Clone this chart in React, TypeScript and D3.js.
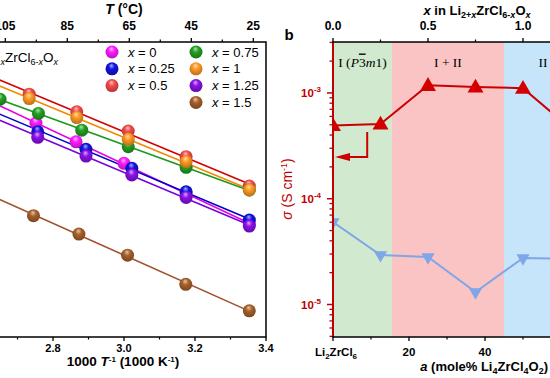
import React from 'react';
import * as d3 from 'd3';

// ---------- Panel a data (1000/T vs sigma, S/cm) ----------
const compLabels = ['0', '0.25', '0.5', '0.75', '1', '1.25', '1.5'];
const invT_x0 = [2.752, 2.865, 3.0, 3.175, 3.353];
const sig_x0 = [6.07e-3, 3.8e-3, 2.22e-3, 1.04e-3, 4.95e-4];
const invT_x025 = [2.757, 2.893, 3.022, 3.175, 3.353];
const sig_x025 = [4.89e-3, 3.15e-3, 1.96e-3, 1.09e-3, 5.38e-4];
const invT_x05 = [2.733, 2.867, 3.012, 3.175, 3.353];
const sig_x05 = [1.25e-2, 8.05e-3, 4.97e-3, 2.62e-3, 1.26e-3];
const invT_x075 = [2.651, 2.759, 2.881, 3.012, 3.175, 3.353];
const sig_x075 = [1.1e-2, 7.73e-3, 5.09e-3, 3.36e-3, 2.01e-3, 1.14e-3];
const invT_x1 = [2.733, 2.867, 3.012, 3.175, 3.353];
const sig_x1 = [1.12e-2, 6.97e-3, 4.04e-3, 2.31e-3, 1.14e-3];
const invT_x125 = [2.757, 2.893, 3.022, 3.175, 3.353];
const sig_x125 = [4.25e-3, 2.66e-3, 1.66e-3, 9.48e-4, 4.63e-4];
const invT_x15 = [2.745, 2.873, 3.01, 3.174, 3.353];
const sig_x15 = [6.0e-4, 3.79e-4, 2.24e-4, 1.08e-4, 5.58e-5];

const ballColors = ['#ff1aff', '#1212e0', '#f24a4a', '#22a022', '#ff9922', '#8a10e8', '#a8602a'];
const lineColors = ['#e600e6', '#0000cc', '#d40000', '#1c9a1c', '#f08a00', '#7a00dd', '#a0522d'];

const invTTicks = [2.6, 2.8, 3.0, 3.2, 3.4];
const invTMinor = [2.7, 2.9, 3.1, 3.3];
const tempTicks = [105, 85, 65, 45, 25];
const tempMinor = [115, 95, 75, 55, 35];

// ---------- Panel b data ----------
const compX = [0, 0.25, 0.5, 0.75, 1.0, 1.25, 1.5];
const sigmaRT = [4.93e-4, 5.09e-4, 1.18e-3, 1.14e-3, 1.11e-3, 4.6e-4, 5.6e-5];
const seriesBX = [0, 0.25, 0.5, 0.75, 1.0, 1.25];
const seriesB = [6.03e-5, 2.94e-5, 2.81e-5, 1.31e-5, 2.75e-5, 2.7e-5];
const phaseStart = [0, 0.31, 0.9];
const phaseEnd = [0.31, 0.9, 1.31];
const phaseColors = ['#d0e9cf', '#fac4c4', '#c6e5fa'];
const xTopTicks = [0, 0.5, 1.0, 1.5];
const xTopMinor = [0.25, 0.75, 1.25];
const aTicks = [0, 20, 40, 60];
const aMinor = [10, 30, 50, 70];
const sigMajor = [1e-3, 1e-4, 1e-5];
const sigMajorExp = ['-3', '-4', '-5'];

const SANS = 'Liberation Sans, Arial, Helvetica, sans-serif';
const SERIF = 'Liberation Serif, Times New Roman, DejaVu Serif, serif';

const seriesA = [
  [invT_x0, sig_x0], [invT_x025, sig_x025], [invT_x05, sig_x05], [invT_x075, sig_x075],
  [invT_x1, sig_x1], [invT_x125, sig_x125], [invT_x15, sig_x15],
].map(([xs, ys], i) => ({ xs, ys, ball: ballColors[i], line: lineColors[i], label: compLabels[i] }));

function fit(xs: number[], ys: number[]) {
  const ly = ys.map((v) => Math.log10(v));
  const mx = d3.mean(xs)!;
  const my = d3.mean(ly)!;
  let num = 0, den = 0;
  xs.forEach((x, i) => { num += (x - mx) * (ly[i] - my); den += (x - mx) * (x - mx); });
  const b = num / den;
  const a = my - b * mx;
  return (x: number) => Math.pow(10, a + b * x);
}

function Ball({ cx, cy, id }: { cx: number; cy: number; id: string }) {
  return <circle cx={cx} cy={cy} r={6.5} fill={`url(#${id})`} />;
}

export default function App() {
  // Panel a scales
  const xL = d3.scaleLinear().domain([2.6, 3.4]).range([-18, 266]);
  const yL = d3.scaleLog().domain([2.9e-5, 4.6e-2]).range([337, 42]);
  const tL = d3.scaleLinear().domain([25, 105]).range([253.3, 5.3]);
  // Panel b scales
  const xR = d3.scaleLinear().domain([0, 1.5]).range([333, 618]);
  const aR = d3.scaleLinear().domain([0, 75]).range([333, 618]);
  const yR = d3.scaleLog().domain([4.93e-6, 3.03e-3]).range([337, 42]);

  const lineR = d3.line<number>().x((_, i) => xR(compX[i])).y((d) => yR(d));
  const lineB = d3.line<number>().x((_, i) => xR(seriesBX[i])).y((d) => yR(d));

  const minorSig: number[] = [];
  for (let e = -6; e <= -3; e++) for (let k = 2; k <= 9; k++) {
    const v = k * Math.pow(10, e);
    if (v > 4.93e-6 && v < 3.03e-3) minorSig.push(v);
  }

  const triUp = d3.symbol().type(d3.symbolTriangle).size(110)()!;
  const triDown = d3.symbol().type(d3.symbolTriangle).size(75)()!;

  const arrowX = xR(0.18);
  const arrowY0 = yR(sigmaRT[1]) + 8;
  const arrowY1 = arrowY0 + 25;

  return (
    <svg width={550} height={378} style={{ position: 'absolute', left: 0, top: 0, background: '#fff' }}>
      <defs>
        {ballColors.map((c, i) => (
          <radialGradient key={i} id={`ball${i}`} cx="50%" cy="40%" r="60%" fx="45%" fy="25%">
            <stop offset="0%" stopColor={d3.interpolateRgb(c, '#ffffff')(0.65)} />
            <stop offset="40%" stopColor={c} />
            <stop offset="100%" stopColor={d3.color(c)!.darker(0.9).formatHex()} />
          </radialGradient>
        ))}
        <clipPath id="plotB">
          <rect x={333} y={42} width={300} height={295} />
        </clipPath>
      </defs>
      <rect x={0} y={0} width={550} height={378} fill="#fff" />

      {/* ================= Panel a ================= */}
      <g>
        {seriesA.map((s, i) => {
          const f = fit(s.xs, s.ys);
          const x0 = 2.55, x1 = d3.max(s.xs)!;
          return <line key={i} x1={xL(x0)} y1={yL(f(x0))} x2={xL(x1)} y2={yL(f(x1))} stroke={s.line} strokeWidth={1.6} />;
        })}
        {seriesA.map((s, i) => (
          <g key={i}>
            {s.xs.map((x, j) => <Ball key={j} cx={xL(x)} cy={yL(s.ys[j])} id={`ball${i}`} />)}
          </g>
        ))}
        <rect x={xL(2.6)} y={42} width={xL(3.4) - xL(2.6)} height={295} fill="none" stroke="#000" strokeWidth={1.5} />
        {/* bottom axis */}
        {invTTicks.map((t) => (
          <g key={t}>
            <line x1={xL(t)} x2={xL(t)} y1={337} y2={341} stroke="#000" strokeWidth={1.3} />
            <text x={xL(t)} y={352} textAnchor="middle" fontFamily={SANS} fontWeight="bold" fontSize={11}>{t.toFixed(1)}</text>
          </g>
        ))}
        {invTMinor.map((t) => <line key={t} x1={xL(t)} x2={xL(t)} y1={337} y2={339.5} stroke="#000" strokeWidth={1.2} />)}
        <text x={123} y={366} textAnchor="middle" fontFamily={SANS} fontWeight="bold" fontSize={13.5}>
          1000 <tspan fontStyle="italic">T</tspan><tspan dy={-4.5} fontSize={8}>-1</tspan><tspan dy={4.5}> (1000 K</tspan><tspan dy={-4.5} fontSize={8}>-1</tspan><tspan dy={4.5}>)</tspan>
        </text>
        {/* top axis */}
        {tempTicks.map((t) => (
          <g key={t}>
            <line x1={tL(t)} x2={tL(t)} y1={42} y2={38} stroke="#000" strokeWidth={1.3} />
            <text x={tL(t)} y={29.5} textAnchor="middle" fontFamily={SANS} fontWeight="bold" fontSize={12}>{t}</text>
          </g>
        ))}
        {tempMinor.map((t) => <line key={t} x1={tL(t)} x2={tL(t)} y1={42} y2={39.5} stroke="#000" strokeWidth={1.2} />)}
        <text x={124} y={14} textAnchor="middle" fontFamily={SANS} fontWeight="bold" fontSize={14}>
          <tspan fontStyle="italic">T</tspan> (°C)
        </text>
        {/* legend */}
        <text x={58} y={61.5} textAnchor="end" fontFamily={SANS} fontSize={13.5}>
          Li<tspan dy={3} fontSize={9}>2+<tspan fontStyle="italic">x</tspan></tspan><tspan dy={-3}>ZrCl</tspan><tspan dy={3} fontSize={9}>6-<tspan fontStyle="italic">x</tspan></tspan><tspan dy={-3}>O</tspan><tspan dy={3} fontSize={9} fontStyle="italic">x</tspan>
        </text>
        {seriesA.map((s, i) => {
          const col = i < 3 ? 0 : 1;
          const row = i < 3 ? i : i - 3;
          const mx = col === 0 ? 112 : 196;
          const my = 52 + row * 16.8;
          return (
            <g key={i}>
              <Ball cx={mx} cy={my} id={`ball${i}`} />
              <text x={mx + 16} y={my + 4.5} fontFamily={SANS} fontSize={13}>
                <tspan fontStyle="italic">x</tspan> = {s.label}
              </text>
            </g>
          );
        })}
      </g>

      {/* ================= Panel b ================= */}
      <g>
        {phaseStart.map((s, i) => (
          <rect key={i} x={xR(s)} y={42} width={xR(phaseEnd[i]) - xR(s)} height={295} fill={phaseColors[i]} />
        ))}
        <text x={(xR(phaseStart[0]) + xR(phaseEnd[0])) / 2} y={66.5} textAnchor="middle" fontFamily={SERIF} fontSize={13.5}>
          I (<tspan fontStyle="italic">P</tspan><tspan style={{ textDecoration: 'overline' }}>3</tspan><tspan fontStyle="italic">m</tspan>1)
        </text>
        <text x={(xR(phaseStart[1]) + xR(phaseEnd[1])) / 2} y={66.5} textAnchor="middle" fontFamily={SERIF} fontSize={13.5}>I + II</text>
        <text x={(xR(phaseStart[2]) + xR(phaseEnd[2])) / 2} y={66.5} textAnchor="middle" fontFamily={SERIF} fontSize={13.5}>II</text>

        <g clipPath="url(#plotB)">
          <path d={lineB(seriesB)!} fill="none" stroke="#7fa6e8" strokeWidth={2} />
          {seriesB.map((v, i) => (
            <path key={i} d={triDown} transform={`translate(${xR(seriesBX[i])},${yR(v)}) rotate(180)`} fill="#7fa6e8" />
          ))}
          <path d={lineR(sigmaRT)!} fill="none" stroke="#cc0000" strokeWidth={2} />
          {sigmaRT.map((v, i) => (
            <path key={i} d={triUp} transform={`translate(${xR(compX[i])},${yR(v) + 1})`} fill="#d40000" />
          ))}
        </g>
        {/* arrow pointing to left axis */}
        <path d={`M${arrowX},${arrowY0}V${arrowY1}H${xR(0) + 12}`} fill="none" stroke="#cc0000" strokeWidth={2} />
        <path d={`M${xR(0) + 2},${arrowY1}L${xR(0) + 17},${arrowY1 - 4}L${xR(0) + 17},${arrowY1 + 4}Z`} fill="#cc0000" />

        {/* left red axis */}
        <line x1={333} x2={333} y1={42} y2={337} stroke="#c00000" strokeWidth={2} />
        {minorSig.map((v, i) => <line key={i} x1={333} x2={329.5} y1={yR(v)} y2={yR(v)} stroke="#c00000" strokeWidth={1.3} />)}
        {sigMajor.map((v, i) => (
          <g key={i}>
            <line x1={333} x2={327} y1={yR(v)} y2={yR(v)} stroke="#c00000" strokeWidth={1.5} />
            <text x={321} y={yR(v) + 4} textAnchor="end" fontFamily={SANS} fontWeight="bold" fontSize={11.5} fill="#c00000">
              10<tspan dy={-5} fontSize={8}>{sigMajorExp[i]}</tspan>
            </text>
          </g>
        ))}
        <text transform="translate(292,189) rotate(-90)" textAnchor="middle" fontFamily={SANS} fontSize={14} fill="#c00000">
          <tspan fontStyle="italic">σ</tspan> (S cm<tspan dy={-5} fontSize={9}>-1</tspan><tspan dy={5}>)</tspan>
        </text>

        {/* top axis */}
        <line x1={332} x2={560} y1={42} y2={42} stroke="#000" strokeWidth={1.5} />
        {xTopTicks.map((t) => (
          <g key={t}>
            <line x1={xR(t)} x2={xR(t)} y1={42} y2={38} stroke="#000" strokeWidth={1.3} />
            <text x={xR(t)} y={29.5} textAnchor="middle" fontFamily={SANS} fontWeight="bold" fontSize={12}>{t.toFixed(1)}</text>
          </g>
        ))}
        {xTopMinor.map((t) => <line key={t} x1={xR(t)} x2={xR(t)} y1={42} y2={39.5} stroke="#000" strokeWidth={1.2} />)}
        <text x={477} y={15} textAnchor="middle" fontFamily={SANS} fontWeight="bold" fontSize={13}>
          <tspan fontStyle="italic">x</tspan> in Li<tspan dy={3} fontSize={9}>2+<tspan fontStyle="italic">x</tspan></tspan><tspan dy={-3}>ZrCl</tspan><tspan dy={3} fontSize={9}>6-<tspan fontStyle="italic">x</tspan></tspan><tspan dy={-3}>O</tspan><tspan dy={3} fontSize={9} fontStyle="italic">x</tspan>
        </text>
        <text x={289} y={40} textAnchor="middle" fontFamily={SANS} fontWeight="bold" fontSize={15}>b</text>

        {/* bottom axis */}
        <line x1={332} x2={560} y1={337} y2={337} stroke="#000" strokeWidth={1.5} />
        {aTicks.map((t) => (
          <g key={t}>
            <line x1={aR(t)} x2={aR(t)} y1={337} y2={341} stroke="#000" strokeWidth={1.3} />
            {t === 0 ? (
              <text x={aR(t) + 3} y={356} textAnchor="middle" fontFamily={SANS} fontWeight="bold" fontSize={11.5}>
                Li<tspan dy={3} fontSize={8}>2</tspan><tspan dy={-3}>ZrCl</tspan><tspan dy={3} fontSize={8}>6</tspan>
              </text>
            ) : (
              <text x={aR(t)} y={356} textAnchor="middle" fontFamily={SANS} fontWeight="bold" fontSize={11.5}>{t}</text>
            )}
          </g>
        ))}
        {aMinor.map((t) => <line key={t} x1={aR(t)} x2={aR(t)} y1={337} y2={339.5} stroke="#000" strokeWidth={1.2} />)}
        <text x={548} y={371} textAnchor="end" fontFamily={SANS} fontWeight="bold" fontSize={13}>
          <tspan fontStyle="italic">a</tspan> (mole% Li<tspan dy={3} fontSize={9}>4</tspan><tspan dy={-3}>ZrCl</tspan><tspan dy={3} fontSize={9}>4</tspan><tspan dy={-3}>O</tspan><tspan dy={3} fontSize={9}>2</tspan><tspan dy={-3}>)</tspan>
        </text>
      </g>
    </svg>
  );
}
